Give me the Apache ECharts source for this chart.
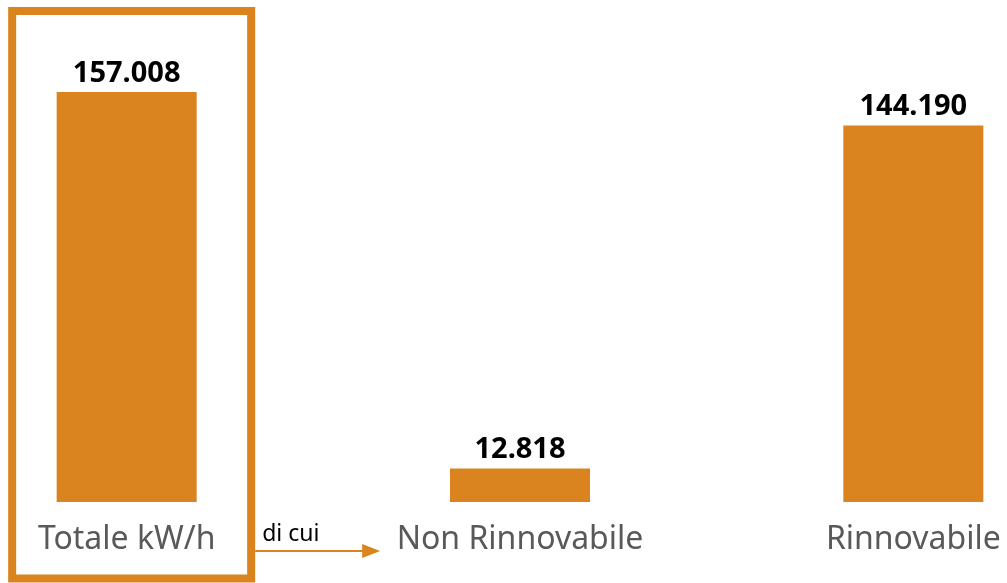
<!DOCTYPE html>
<html>
<head>
<meta charset="utf-8">
<script src="https://cdn.jsdelivr.net/npm/echarts@6/dist/echarts.min.js"></script>
<style>
    html, body { margin: 0; padding: 0; background: #fff; overflow: hidden; }
    /* il grafico originale è tagliato ai lati: contenitore più largo e spostato */
    #mychart { width: 1180px; height: 583px; margin-left: -70px; }
</style>
</head>
<body>
<div id="mychart"></div>
<script>
    // dati
    var categorie = ['Totale kW/h', 'Non Rinnovabile', 'Rinnovabile']
    var valori = [157008, 12818, 144190]
    var arancio = '#D9841E'

    function formatta(v) {
        // separatore migliaia con il punto
        return String(v).replace(/\B(?=(\d{3})+(?!\d))/g, '.')
    }

    var myChart = echarts.init(document.getElementById('mychart'))
    var option = {
        backgroundColor: '#ffffff',
        animation: false,
        grid: {
            left: 0,
            right: 0,
            top: 32,
            bottom: 81
        },
        xAxis: {
            type: 'category',
            data: categorie,
            axisLine: { show: false },
            axisTick: { show: false },
            axisLabel: {
                margin: 22,
                color: '#595959',
                fontSize: 32,
                fontFamily: 'Noto Sans'
            }
        },
        yAxis: {
            type: 'value',
            min: 0,
            max: 180000,
            show: false,
            splitLine: { show: false }
        },
        series: [{
            type: 'bar',
            data: valori,
            barWidth: 140,
            itemStyle: { color: arancio },
            label: {
                show: true,
                position: 'top',
                distance: 4,
                color: '#000',
                fontSize: 29,
                fontWeight: 'bold',
                fontFamily: 'Noto Sans',
                formatter: function (p) {
                    return formatta(p.value)
                }
            }
        }]
    }
    myChart.setOption(option)

    // cornice attorno al totale e freccia "di cui"
    var c0 = myChart.convertToPixel({ xAxisIndex: 0 }, categorie[0])
    var base = myChart.convertToPixel({ yAxisIndex: 0 }, 0)
    var fx1 = c0 - 114.5, fx2 = c0 + 124.5
    var fy = base + 49
    myChart.setOption({
        graphic: [
            {
                type: 'rect',
                shape: { x: fx1, y: 11, width: fx2 - fx1, height: 567.5 },
                style: { fill: null, stroke: arancio, lineWidth: 8 }
            },
            {
                type: 'line',
                shape: { x1: fx2 + 4, y1: fy, x2: fx2 + 114, y2: fy },
                style: { stroke: arancio, lineWidth: 2 }
            },
            {
                type: 'polygon',
                shape: { points: [[fx2 + 111, fy - 7], [fx2 + 129, fy], [fx2 + 111, fy + 7]] },
                style: { fill: arancio }
            },
            {
                type: 'text',
                x: fx2 + 11,
                y: fy - 28,
                style: {
                    text: 'di cui',
                    fill: '#000',
                    fontSize: 23,
                    fontFamily: 'Noto Sans'
                }
            }
        ]
    })
</script>
</body>
</html>
